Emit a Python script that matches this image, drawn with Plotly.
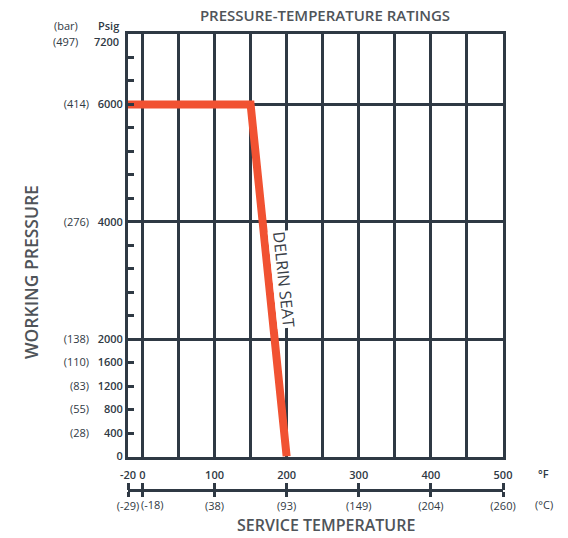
import plotly.graph_objects as go

# ---- data ----
temp_f = [-20, 150, 200]
pressure_psig = [6000, 6000, 0]

psig_ticks = [0, 400, 800, 1200, 1600, 2000, 2400, 2800, 3200, 3600, 4000,
              4400, 4800, 5200, 5600, 6000, 6400, 6800, 7200]
psig_labels = ["0", "400", "800", "1200", "1600", "2000", "", "", "", "", "4000",
               "", "", "", "", "6000", "", "", ""]
bar_labels = ["", "(28)", "(55)", "(83)", "(110)", "(138)", "", "", "", "", "(276)",
              "", "", "", "", "(414)", "", "", ""]
top_psig = 7200
top_psig_label = "7200"
top_bar_label = "(497)"
grid_psig = [2000, 4000, 6000]
grid_f = [0, 50, 100, 150, 200, 250, 300, 350, 400, 450]
f_ticks = [-20, 0, 100, 200, 300, 400, 500]
f_labels = ["-20", "0", "100", "200", "300", "400", "500"]
c_labels = ["(-29)", "", "(38)", "(93)", "(149)", "(204)", "(260)"]
zero_f = 0
zero_c_label = "(-18)"

# ---- style ----
DARK = "#2f3944"
RED = "#f15232"
GRAY = "#4f5459"
FONT = "Open Sans"
W, H = 568, 538
ML, MR, MT, MB = 128, 65, 34, 48
plot_w = W - ML - MR
paper_h = H - MT - MB
plot_bottom_px = 456.5
ydom0 = (H - MB - plot_bottom_px) / paper_h

fig = go.Figure()
fig.add_trace(go.Scatter(x=temp_f, y=pressure_psig, mode="lines",
                         line=dict(color=RED, width=8), hoverinfo="skip",
                         showlegend=False, cliponaxis=False))
# helper invisible traces to bind overlay axes
for xa, ya in [("x2", "y"), ("x3", "y"), ("x", "y2"), ("x", "y3")]:
    fig.add_trace(go.Scatter(x=[f_ticks[0], f_ticks[-1]], y=[0, top_psig], mode="markers",
                             marker=dict(opacity=0), xaxis=xa, yaxis=ya,
                             hoverinfo="skip", showlegend=False))

xr = [f_ticks[0], f_ticks[-1]]
yr = [0, top_psig]

fig.update_layout(
    width=W, height=H,
    margin=dict(l=ML, r=MR, t=MT, b=MB),
    paper_bgcolor="white", plot_bgcolor="white",
    font=dict(family=FONT, color=DARK),
    title=dict(text="PRESSURE-TEMPERATURE RATINGS", x=325 / W, xanchor="center",
               y=1 - 16 / H, yanchor="middle", xref="container", yref="container",
               font=dict(size=15, color=GRAY, family=FONT, weight=600)),
    xaxis=dict(range=xr, domain=[0, 1], tickmode="array", tickvals=grid_f,
               showticklabels=False, ticks="", showgrid=True, gridcolor=DARK,
               gridwidth=2.5, zeroline=False, showline=True, linecolor=DARK,
               linewidth=3, mirror=True, anchor="y"),
    yaxis=dict(range=yr, domain=[ydom0, 1], tickmode="array", tickvals=psig_ticks,
               ticktext=psig_labels, ticks="inside", ticklen=6, tickwidth=2.5,
               tickcolor=DARK, showgrid=False, zeroline=False, showline=True,
               linecolor=DARK, linewidth=3, mirror=True,
               tickfont=dict(size=11, color=DARK, family=FONT, weight=600),
               anchor="x"),
    yaxis2=dict(range=yr, overlaying="y", tickmode="array", tickvals=grid_psig,
                showticklabels=False, ticks="", showgrid=True, gridcolor=DARK,
                gridwidth=2.5, zeroline=False, showline=False, anchor="x"),
    yaxis3=dict(range=yr, overlaying="y", tickmode="array", tickvals=psig_ticks,
                ticktext=bar_labels, ticks="", showgrid=False, zeroline=False,
                showline=False, anchor="x", side="left", ticklabelstandoff=38,
                tickfont=dict(size=11, color=DARK, family=FONT)),
    xaxis2=dict(range=xr, overlaying="x", anchor="free", position=0, side="bottom",
                tickmode="array", tickvals=f_ticks, ticktext=c_labels, ticks="outside",
                ticklen=5, tickwidth=3, tickcolor=DARK, tickangle=0,
                showline=True, linecolor=DARK, linewidth=3, showgrid=False,
                zeroline=False, tickfont=dict(size=11, color=DARK, family=FONT)),
    xaxis3=dict(range=xr, overlaying="x", anchor="free", position=0, side="top",
                tickmode="array", tickvals=f_ticks, ticktext=f_labels, ticks="outside",
                ticklen=7, tickwidth=3, tickcolor=DARK, tickangle=0,
                showline=False, showgrid=False, zeroline=False,
                tickfont=dict(size=11, color=DARK, family=FONT, weight=600)),
)

def px_x(p):
    return (p - ML) / plot_w

def px_y(p):
    return (H - MB - p) / paper_h

annotations = [
    dict(text="(bar)", x=px_x(80), y=px_y(25), xanchor="right", yanchor="middle",
         font=dict(size=11, color=DARK, family=FONT)),
    dict(text="Psig", x=px_x(121), y=px_y(25), xanchor="right", yanchor="middle",
         font=dict(size=11, color=DARK, family=FONT, weight=600)),
    dict(text="°F", x=px_x(536), y=px_y(473), xanchor="left", yanchor="middle",
         font=dict(size=11, color=DARK, family=FONT, weight=600)),
    dict(text="(°C)", x=px_x(533), y=px_y(504), xanchor="left", yanchor="middle",
         font=dict(size=11, color=DARK, family=FONT)),
    dict(text="SERVICE TEMPERATURE", x=px_x(326), y=px_y(525), xanchor="center",
         yanchor="middle", font=dict(size=16, color=GRAY, family=FONT, weight=600)),
    dict(text="WORKING PRESSURE", x=px_x(31), y=px_y(272), xanchor="center",
         yanchor="middle", textangle=-90,
         font=dict(size=17.5, color=GRAY, family=FONT, weight=600)),
]
for a in annotations:
    a.update(xref="paper", yref="paper", showarrow=False)
    fig.add_annotation(**a)

# (-18) label sits just right of its tick, next to (-29)
fig.add_annotation(text=zero_c_label, x=zero_f, y=px_y(504), xref="x", yref="paper",
                   xanchor="left", yanchor="middle", xshift=-3, showarrow=False,
                   font=dict(size=11, color=DARK, family=FONT))

# top tick labels (drawn slightly below the top frame, as in the original)
fig.add_annotation(text=top_psig_label, x=px_x(121), y=top_psig, xref="paper", yref="y",
                   xanchor="right", yanchor="middle", yshift=-7, showarrow=False,
                   font=dict(size=11, color=DARK, family=FONT, weight=600))
fig.add_annotation(text=top_bar_label, x=px_x(80), y=top_psig, xref="paper", yref="y",
                   xanchor="right", yanchor="middle", yshift=-7, showarrow=False,
                   font=dict(size=11, color=DARK, family=FONT))

# curve label, positioned along the sloped segment
fig.add_annotation(text="DELRIN SEAT", x=196, y=3020, xref="x", yref="y",
                   showarrow=False, textangle=84, bgcolor="white", borderpad=0,
                   font=dict(size=16, color="#3a4047", family=FONT))

fig.write_html("out.html", config={"displayModeBar": False},
               post_script="document.body.style.margin='0';document.body.style.overflow='hidden';")
